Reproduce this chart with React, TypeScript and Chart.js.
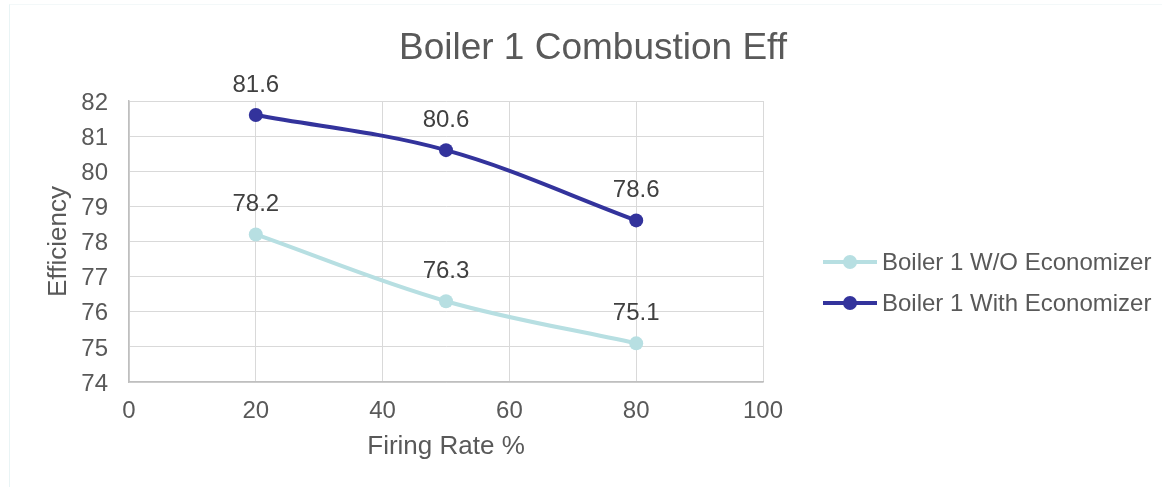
import React, { useEffect, useRef } from "react";
import { Chart, registerables } from "chart.js";

Chart.register(...registerables);

// Firing rate (%) at which each efficiency reading was taken
const firingRates = [20, 50, 80];
// Combustion efficiency readings
const withoutEconomizer = [78.2, 76.3, 75.1];
const withEconomizer = [81.6, 80.6, 78.6];

const seriesNames = ["Boiler 1 W/O Economizer", "Boiler 1 With Economizer"];
const seriesColors = ["#b7dfe2", "#33339c"];

const chartTitle = "Boiler 1 Combustion Eff";
const xTitle = "Firing Rate %";
const yTitle = "Efficiency";

const FONT = "'Liberation Sans', Arial, Helvetica, sans-serif";
const TEXT = "#595959";
const SMALL = 24;

const toPoints = (ys: number[]) => firingRates.map((x, i) => ({ x, y: ys[i] }));

// Title, value labels and the legend are painted directly on the canvas.
const decorPlugin = {
  id: "decor",
  afterDatasetsDraw(chart: any) {
    const ctx = chart.ctx as CanvasRenderingContext2D;
    ctx.save();

    // value labels above each point
    ctx.font = `${SMALL}px ${FONT}`;
    ctx.fillStyle = "#404040";
    ctx.textAlign = "center";
    ctx.textBaseline = "middle";
    chart.data.datasets.forEach((ds: any, di: number) => {
      const meta = chart.getDatasetMeta(di);
      meta.data.forEach((el: any, i: number) => {
        ctx.fillText(String(ds.data[i].y), el.x, el.y - 30);
      });
    });

    // chart title
    ctx.font = `37px ${FONT}`;
    ctx.fillStyle = TEXT;
    ctx.fillText(chartTitle, 593, 49);

    // legend
    const rows = [262, 303];
    seriesNames.forEach((name, i) => {
      const y = rows[i];
      ctx.strokeStyle = seriesColors[i];
      ctx.lineWidth = 4;
      ctx.beginPath();
      ctx.moveTo(823, y);
      ctx.lineTo(877, y);
      ctx.stroke();
      ctx.fillStyle = seriesColors[i];
      ctx.beginPath();
      ctx.arc(850, y, 7, 0, Math.PI * 2);
      ctx.fill();
      ctx.font = `${SMALL}px ${FONT}`;
      ctx.fillStyle = TEXT;
      ctx.textAlign = "left";
      ctx.fillText(name, 882, y + 1);
    });

    ctx.restore();
  },
};

export default function App() {
  const canvasRef = useRef<HTMLCanvasElement | null>(null);

  useEffect(() => {
    if (!canvasRef.current) return;
    const chart = new Chart(canvasRef.current, {
      type: "line",
      data: {
        datasets: [
          {
            label: seriesNames[0],
            data: toPoints(withoutEconomizer),
            borderColor: seriesColors[0],
            backgroundColor: seriesColors[0],
            borderWidth: 4,
            pointRadius: 7,
            pointBorderWidth: 0,
            tension: 0.35,
          },
          {
            label: seriesNames[1],
            data: toPoints(withEconomizer),
            borderColor: seriesColors[1],
            backgroundColor: seriesColors[1],
            borderWidth: 4,
            pointRadius: 7,
            pointBorderWidth: 0,
            tension: 0.35,
          },
        ],
      },
      options: {
        responsive: false,
        animation: false,
        layout: { padding: { top: 101, right: 399, left: 0, bottom: 0 } },
        plugins: {
          legend: { display: false },
          title: { display: false },
          tooltip: { enabled: false },
        },
        scales: {
          x: {
            type: "linear",
            min: 0,
            max: 100,
            ticks: {
              stepSize: 20,
              padding: 15,
              color: TEXT,
              font: { family: FONT, size: SMALL },
            },
            grid: { color: "#d9d9d9", lineWidth: 1, drawTicks: false },
            border: { color: "#bfbfbf", width: 1.5 },
            title: {
              display: true,
              text: xTitle,
              color: TEXT,
              font: { family: FONT, size: 26 },
              padding: { top: 0, bottom: 25 },
            },
            afterFit(scale: any) {
              scale.height = 105;
            },
          },
          y: {
            min: 74,
            max: 82,
            ticks: {
              stepSize: 1,
              padding: 21,
              labelOffset: 2,
              color: TEXT,
              font: { family: FONT, size: SMALL },
            },
            grid: { color: "#d9d9d9", lineWidth: 1, drawTicks: false },
            border: { color: "#bfbfbf", width: 1.5 },
            title: {
              display: true,
              text: yTitle,
              color: TEXT,
              font: { family: FONT, size: 26 },
              padding: { top: 43, bottom: 0 },
            },
            afterFit(scale: any) {
              scale.width = 129;
            },
          },
        },
      },
      plugins: [decorPlugin],
    });
    return () => chart.destroy();
  }, []);

  return (
    <div style={{ position: "fixed", left: 0, top: 0, width: 1162, height: 487, background: "#fff" }}>
      <div
        style={{
          position: "absolute",
          left: 9,
          top: 4,
          right: 0,
          bottom: 0,
          borderLeft: "1px solid #e9f4f5",
          borderTop: "1px solid #f3f8f9",
        }}
      />
      <canvas ref={canvasRef} width={1162} height={487} style={{ position: "absolute", left: 0, top: 0 }} />
    </div>
  );
}
